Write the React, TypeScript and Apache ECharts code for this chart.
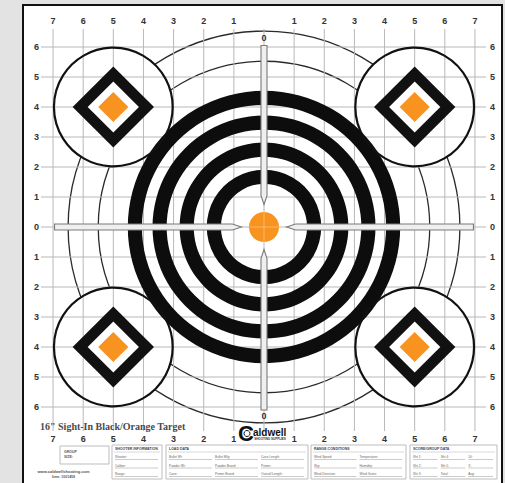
import React, { useEffect, useRef } from "react";
import * as echarts from "echarts";

// ---- data ----
const xTicks = [-7, -6, -5, -4, -3, -2, -1, 0, 1, 2, 3, 4, 5, 6, 7];
const yTicks = [-6, -5, -4, -3, -2, -1, 0, 1, 2, 3, 4, 5, 6];
const xEdgeLabels = xTicks.filter((v) => v !== 0);
const ringInner = [1.43, 2.33, 3.23, 4.05];
const ringOuter = [1.9, 2.8, 3.7, 4.52];
const bullRadius = 0.5;
const guideRadii = [5.5, 6.5];
const cornerX = [-5, 5, -5, 5];
const cornerY = [4, 4, -4, -4];
const cornerRadius = 1.97;
const diamondHalf = [1.35, 0.85, 0.5];
const diamondColors = ["#111111", "#ffffff", "#F7931E"];
const armDirX = [-1, 1, 0, 0];
const armDirY = [0, 0, 1, -1];
const armStart = [0.75, 0.75, 0.75, 0.75];
const armEnd = [6.95, 6.95, 6.05, 6.1];
const zeroMarkY = [6.29, -6.29];

const X_MIN = -7.3;
const X_MAX = 7.3;
const Y_MIN = -6.8;
const Y_MAX = 6.6;
const ORANGE = "#F7931E";
const LABEL_FONT = '"Liberation Sans", Arial, sans-serif';

const formBoxes = [
  { x: 112, w: 50, title: "SHOOTER INFORMATION", cols: [["Shooter:", "Caliber:", "Range:"]] },
  {
    x: 166,
    w: 142,
    title: "LOAD DATA",
    cols: [
      ["Bullet Wt:", "Powder Wt:", "Case:"],
      ["Bullet Mfg:", "Powder Brand:", "Primer Brand:"],
      ["Case Length:", "Primer:", "Overall Length:"],
    ],
  },
  {
    x: 311,
    w: 95,
    title: "RANGE CONDITIONS",
    cols: [
      ["Wind Speed:", "Sky:", "Wind Direction:"],
      ["Temperature:", "Humidity:", "Wind Gusts:"],
    ],
  },
  {
    x: 410,
    w: 87,
    title: "SCORE/GROUP DATA",
    cols: [
      ["Sht 1:", "Sht 2:", "Sht 3:"],
      ["Sht 4:", "Sht 5:", "Total:"],
      ["10:", "X:", "Avg:"],
    ],
  },
];

function buildForms(): any[] {
  const els: any[] = [];
  const boxY = 445;
  const boxH = 34;
  const rowYs = [457, 465.5, 474];
  formBoxes.forEach((b) => {
    els.push({
      type: "rect",
      z: 5,
      shape: { x: b.x, y: boxY, width: b.w, height: boxH },
      style: { fill: "#ffffff", stroke: "#bdbdbd", lineWidth: 1 },
    });
    els.push({
      type: "text",
      z: 6,
      x: b.x + 3,
      y: boxY + 4,
      style: { text: b.title, fontSize: 3.5, fontWeight: "bold", fontFamily: LABEL_FONT, fill: "#444", verticalAlign: "middle" },
    });
    els.push({
      type: "line",
      z: 6,
      shape: { x1: b.x + 2, y1: boxY + 7, x2: b.x + b.w - 2, y2: boxY + 7 },
      style: { stroke: "#cfcfcf", lineWidth: 0.8 },
    });
    const colW = (b.w - 4) / b.cols.length;
    b.cols.forEach((col, ci) => {
      const cx = b.x + 3 + ci * colW;
      col.forEach((lab, ri) => {
        els.push({
          type: "text",
          z: 6,
          x: cx,
          y: rowYs[ri],
          style: { text: lab, fontSize: 3.2, fontFamily: LABEL_FONT, fill: "#666", verticalAlign: "middle" },
        });
        els.push({
          type: "line",
          z: 6,
          shape: { x1: cx, y1: rowYs[ri] + 2.5, x2: cx + colW - 3, y2: rowYs[ri] + 2.5 },
          style: { stroke: "#b5b5b5", lineWidth: 0.7 },
        });
      });
    });
  });
  // group size box
  els.push({
    type: "rect",
    z: 5,
    shape: { x: 60, y: 446, width: 49, height: 18 },
    style: { fill: "#ffffff", stroke: "#bdbdbd", lineWidth: 1 },
  });
  els.push({
    type: "text",
    z: 6,
    x: 64,
    y: 452,
    style: { text: "GROUP", fontSize: 3.5, fontWeight: "bold", fontFamily: LABEL_FONT, fill: "#555", verticalAlign: "middle" },
  });
  els.push({
    type: "text",
    z: 6,
    x: 64,
    y: 457,
    style: { text: "SIZE:", fontSize: 3.5, fontWeight: "bold", fontFamily: LABEL_FONT, fill: "#555", verticalAlign: "middle" },
  });
  els.push({
    type: "text",
    z: 6,
    x: 63.5,
    y: 471.5,
    style: { text: "www.caldwellshooting.com", fontSize: 4, fontWeight: "bold", fontFamily: LABEL_FONT, fill: "#555", align: "center", verticalAlign: "middle" },
  });
  els.push({
    type: "text",
    z: 6,
    x: 63.5,
    y: 477,
    style: { text: "Item: 1001459", fontSize: 3.5, fontWeight: "bold", fontFamily: LABEL_FONT, fill: "#555", align: "center", verticalAlign: "middle" },
  });
  return els;
}

function axisLabel(margin: number) {
  return {
    margin,
    color: "#333",
    fontSize: 9,
    fontWeight: "bold" as const,
    fontFamily: LABEL_FONT,
    formatter: (v: number) => String(Math.abs(Math.round(v))),
  };
}

export default function App() {
  const ref = useRef<HTMLDivElement>(null);

  useEffect(() => {
    if (!ref.current) return;
    const chart = echarts.init(ref.current, null, { renderer: "svg" });

    const baseX = {
      type: "value",
      min: X_MIN,
      max: X_MAX,
      axisLine: { show: false },
      axisTick: { show: false },
      splitLine: { show: false },
    };
    const baseY = {
      type: "value",
      min: Y_MIN,
      max: Y_MAX,
      axisLine: { show: false },
      axisTick: { show: false },
      splitLine: { show: false },
    };

    const option: any = {
      animation: false,
      backgroundColor: "#e3e3e3",
      grid: { left: 44, right: 21, top: 29, bottom: 52 },
      xAxis: [
        { ...baseX, position: "bottom", axisLabel: { ...axisLabel(3), customValues: xEdgeLabels } },
        { ...baseX, position: "top", axisLabel: { ...axisLabel(4), customValues: xEdgeLabels } },
      ],
      yAxis: [
        { ...baseY, position: "left", axisLabel: { ...axisLabel(5), customValues: yTicks } },
        { ...baseY, position: "right", axisLabel: { ...axisLabel(6), customValues: yTicks } },
      ],
      graphic: [
        {
          type: "rect",
          z: -10,
          shape: { x: 23, y: 5, width: 479, height: 490 },
          style: { fill: "#ffffff", stroke: "#111111", lineWidth: 2 },
        },
        {
          type: "text",
          z: 6,
          x: 40,
          y: 426,
          style: {
            text: '16" Sight-In Black/Orange Target',
            fontSize: 10,
            fontWeight: "bold",
            fontFamily: '"Liberation Serif", serif',
            fill: "#4a4a4a",
            verticalAlign: "middle",
          },
        },
        {
          type: "text",
          z: 6,
          x: 246,
          y: 433.5,
          style: {
            text: "C",
            fontSize: 22,
            fontWeight: "bold",
            fontFamily: LABEL_FONT,
            fill: "#111",
            align: "center",
            verticalAlign: "middle",
          },
        },
        {
          type: "circle",
          z: 7,
          shape: { cx: 247, cy: 433.5, r: 3 },
          style: { fill: "none", stroke: "#111", lineWidth: 1 },
        },
        {
          type: "text",
          z: 6,
          x: 253,
          y: 432,
          style: {
            text: "aldwell",
            fontSize: 10,
            fontWeight: "bold",
            fontFamily: LABEL_FONT,
            fill: "#111",
            verticalAlign: "middle",
          },
        },
        {
          type: "text",
          z: 6,
          x: 270,
          y: 439,
          style: {
            text: "SHOOTING SUPPLIES",
            fontSize: 3,
            fontWeight: "bold",
            fontFamily: LABEL_FONT,
            fill: "#333",
            align: "center",
            verticalAlign: "middle",
          },
        },
        ...buildForms(),
      ],
      series: [
        // thin guide circles
        {
          type: "custom",
          z: 1,
          data: guideRadii.map((r) => [0, 0, r]),
          renderItem: (params: any, api: any) => {
            const c = api.coord([api.value(0), api.value(1)]);
            const r = api.size([api.value(2), 0])[0];
            return {
              type: "circle",
              shape: { cx: c[0], cy: c[1], r },
              style: { fill: "none", stroke: "#2a2a2a", lineWidth: 1.3 },
            };
          },
        },
        // corner white discs
        {
          type: "custom",
          z: 2,
          data: cornerX.map((x, i) => [x, cornerY[i], cornerRadius]),
          renderItem: (params: any, api: any) => {
            const c = api.coord([api.value(0), api.value(1)]);
            const r = api.size([api.value(2), 0])[0];
            return {
              type: "circle",
              shape: { cx: c[0], cy: c[1], r },
              style: { fill: "#ffffff", stroke: "none" },
            };
          },
        },
        // vertical grid lines
        {
          type: "custom",
          z: 3,
          data: xTicks.map((v) => [v, 0]),
          renderItem: (params: any, api: any) => {
            const p = api.coord([api.value(0), 0]);
            const cs = params.coordSys;
            return {
              type: "line",
              shape: { x1: p[0], y1: cs.y, x2: p[0], y2: cs.y + cs.height },
              style: { stroke: "#b8b8b8", lineWidth: 1 },
            };
          },
        },
        // horizontal grid lines
        {
          type: "custom",
          z: 3,
          data: yTicks.map((v) => [0, v]),
          renderItem: (params: any, api: any) => {
            const p = api.coord([0, api.value(1)]);
            const cs = params.coordSys;
            return {
              type: "line",
              shape: { x1: cs.x - 3, y1: p[1], x2: cs.x + cs.width + 2, y2: p[1] },
              style: { stroke: "#b8b8b8", lineWidth: 1 },
            };
          },
        },
        // black rings
        {
          type: "custom",
          z: 4,
          data: ringInner.map((r0, i) => [0, 0, r0, ringOuter[i]]),
          renderItem: (params: any, api: any) => {
            const c = api.coord([api.value(0), api.value(1)]);
            const r0 = api.size([api.value(2), 0])[0];
            const r = api.size([api.value(3), 0])[0];
            return {
              type: "ring",
              shape: { cx: c[0], cy: c[1], r, r0 },
              style: { fill: "#0d0d0d" },
            };
          },
        },
        // bull
        {
          type: "custom",
          z: 4,
          data: [[0, 0, bullRadius]],
          renderItem: (params: any, api: any) => {
            const c = api.coord([api.value(0), api.value(1)]);
            const r = api.size([api.value(2), 0])[0];
            return {
              type: "group",
              children: [
                { type: "circle", shape: { cx: c[0], cy: c[1], r }, style: { fill: ORANGE } },
                {
                  type: "line",
                  shape: { x1: c[0] - r, y1: c[1], x2: c[0] + r, y2: c[1] },
                  style: { stroke: "rgba(255,255,255,0.35)", lineWidth: 1 },
                },
                {
                  type: "line",
                  shape: { x1: c[0], y1: c[1] - r, x2: c[0], y2: c[1] + r },
                  style: { stroke: "rgba(255,255,255,0.35)", lineWidth: 1 },
                },
              ],
            };
          },
        },
        // corner circle outlines
        {
          type: "custom",
          z: 4,
          data: cornerX.map((x, i) => [x, cornerY[i], cornerRadius]),
          renderItem: (params: any, api: any) => {
            const c = api.coord([api.value(0), api.value(1)]);
            const r = api.size([api.value(2), 0])[0];
            return {
              type: "circle",
              shape: { cx: c[0], cy: c[1], r },
              style: { fill: "none", stroke: "#111", lineWidth: 2.2 },
            };
          },
        },
        // diamonds
        {
          type: "custom",
          z: 5,
          data: cornerX.flatMap((x, i) => diamondHalf.map((h, k) => [x, cornerY[i], h, k])),
          renderItem: (params: any, api: any) => {
            const x = api.value(0);
            const y = api.value(1);
            const h = api.value(2);
            const k = api.value(3);
            const pts = [
              api.coord([x - h, y]),
              api.coord([x, y + h]),
              api.coord([x + h, y]),
              api.coord([x, y - h]),
            ];
            return {
              type: "polygon",
              shape: { points: pts },
              style: { fill: diamondColors[k] },
            };
          },
        },
        // crosshair arms
        {
          type: "custom",
          z: 6,
          data: armDirX.map((dx, i) => [dx, armDirY[i], armStart[i], armEnd[i]]),
          renderItem: (params: any, api: any) => {
            const dx = api.value(0);
            const dy = api.value(1);
            const s = api.value(2);
            const e = api.value(3);
            const p0 = api.coord([dx * s, dy * s]);
            const pt = api.coord([dx * (s + 0.3), dy * (s + 0.3)]);
            const p1 = api.coord([dx * e, dy * e]);
            const w = 3;
            const nx = dy !== 0 ? 1 : 0;
            const ny = dx !== 0 ? 1 : 0;
            const pts = [
              p0,
              [pt[0] + nx * w, pt[1] + ny * w],
              [p1[0] + nx * w, p1[1] + ny * w],
              [p1[0] - nx * w, p1[1] - ny * w],
              [pt[0] - nx * w, pt[1] - ny * w],
            ];
            return {
              type: "polygon",
              shape: { points: pts },
              style: { fill: "#efefef", stroke: "#7a7a7a", lineWidth: 1.1 },
            };
          },
        },
        // zero marks at the ends of the vertical arm
        {
          type: "custom",
          z: 6,
          data: zeroMarkY.map((y) => [0, y]),
          renderItem: (params: any, api: any) => {
            const c = api.coord([api.value(0), api.value(1)]);
            return {
              type: "text",
              x: c[0],
              y: c[1],
              style: {
                text: "0",
                fontSize: 9,
                fontWeight: "bold",
                fontFamily: LABEL_FONT,
                fill: "#333",
                align: "center",
                verticalAlign: "middle",
              },
            };
          },
        },
      ],
    };

    chart.setOption(option);
    return () => chart.dispose();
  }, []);

  return <div ref={ref} style={{ width: 505, height: 483, position: "absolute", left: 0, top: 0 }} />;
}
